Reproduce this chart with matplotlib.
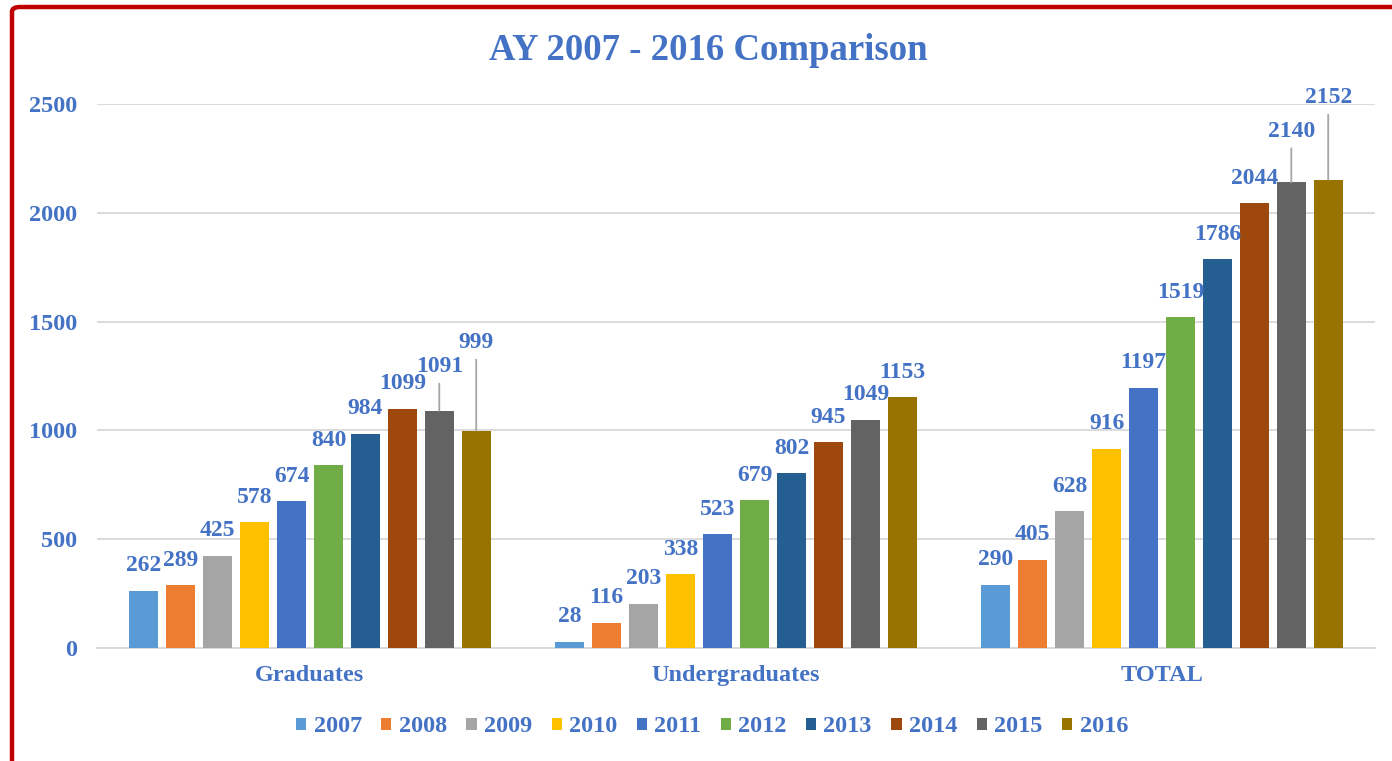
import numpy as np
import matplotlib
matplotlib.use('Agg')
import matplotlib.pyplot as plt
from matplotlib.patches import Patch, FancyBboxPatch

# Data
categories = ['Graduates', 'Undergraduates', 'TOTAL']
years = ['2007', '2008', '2009', '2010', '2011', '2012', '2013', '2014', '2015', '2016']
graduates = [262, 289, 425, 578, 674, 840, 984, 1099, 1091, 999]
undergraduates = [28, 116, 203, 338, 523, 679, 802, 945, 1049, 1153]
total = [290, 405, 628, 916, 1197, 1519, 1786, 2044, 2140, 2152]
yticks = [0, 500, 1000, 1500, 2000, 2500]

colors = ['#5B9BD5', '#ED7D31', '#A5A5A5', '#FFC000', '#4472C4',
          '#70AD47', '#255E91', '#9E480E', '#636363', '#997300']
text_color = '#4472C4'
font = 'Liberation Serif'
fs_label = 17
fs = 17.5

# label lift (pixels above bar top) for labels that use leader lines
lifted = {(0, 8): 44, (0, 9): 88, (2, 8): 51, (2, 9): 82}

values = np.array([graduates, undergraduates, total])

fig = plt.figure(figsize=(13.92, 7.61), dpi=100)
ax = fig.add_axes([97 / 1392, 1 - 648 / 761, (1375 - 97) / 1392, (648 - 104) / 761])

step = 0.0867
width = 0.068
x = np.arange(len(categories))
for j, year in enumerate(years):
    xs = x + (j - 4.5) * step
    ax.bar(xs, values[:, j], width=width, color=colors[j], zorder=3)
    for i, v in enumerate(values[:, j]):
        lift = lifted.get((i, j), 25)
        ax.annotate(str(v), (xs[i], v), xytext=(0, lift), textcoords='offset pixels',
                    ha='center', va='center', fontsize=fs_label, fontweight='bold',
                    color=text_color, family=font, annotation_clip=False, zorder=5)
        if (i, j) in lifted:
            # leader line from the bar top up to the label
            ax.annotate('', (xs[i], v), xytext=(0, lift - 17), textcoords='offset pixels',
                        arrowprops=dict(arrowstyle='-', color='#A6A6A6', lw=1.3,
                                        shrinkA=0, shrinkB=0),
                        annotation_clip=False, zorder=4)

ax.set_xlim(-0.5, 2.5)
ax.set_ylim(0, 2500)
ax.set_yticks(yticks)
ax.set_xticks(x)
ax.set_xticklabels(categories)
ax.yaxis.grid(True, color='#D9D9D9', lw=1.3, zorder=0)
ax.tick_params(axis='both', length=0, labelsize=fs, labelcolor=text_color)
ax.tick_params(axis='y', pad=14)
ax.tick_params(axis='x', pad=12)
for lbl in ax.get_xticklabels() + ax.get_yticklabels():
    lbl.set_fontfamily(font)
    lbl.set_fontweight('bold')
for s in ['left', 'right', 'top']:
    ax.spines[s].set_visible(False)
ax.spines['bottom'].set_color('#D9D9D9')
ax.spines['bottom'].set_linewidth(1.3)

fig.text(708 / 1392, 1 - 50 / 761, 'AY 2007 - 2016 Comparison', ha='center', va='center',
         fontsize=26.5, fontweight='bold', color=text_color, family=font)

handles = [Patch(facecolor=c, edgecolor='none') for c in colors]
leg = fig.legend(handles, years, loc='center', bbox_to_anchor=(712 / 1392, 1 - 727 / 761),
                 ncol=10, frameon=False, handlelength=0.42, handleheight=0.42,
                 handletextpad=0.3, columnspacing=0.8,
                 prop={'family': font, 'weight': 'bold', 'size': fs})
for t in leg.get_texts():
    t.set_color(text_color)

# red frame, only its top and left edges fall inside the picture
frame = FancyBboxPatch((12 / 1392, -0.2), 1.2, 1.2 - 7 / 761,
                       boxstyle='round,pad=0,rounding_size=0.006',
                       transform=fig.transFigure, fill=False,
                       edgecolor='#C00000', lw=3.2, clip_on=False)
fig.patches.append(frame)

fig.savefig('out.png', dpi=100)
